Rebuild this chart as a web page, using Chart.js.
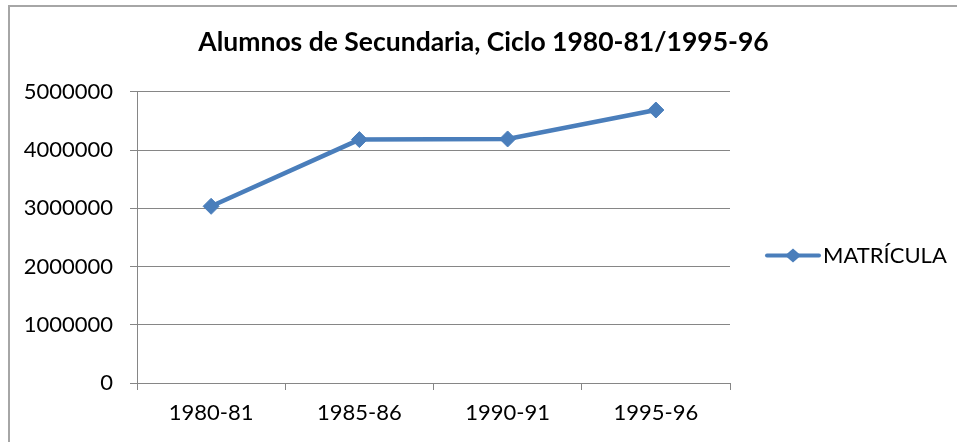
<!DOCTYPE html>
<html>
<head>
<meta charset="utf-8">
<script src="https://cdn.jsdelivr.net/npm/chart.js@4.4.1/dist/chart.umd.min.js"></script>
<style>
  html, body { margin: 0; padding: 0; background: #fff; }
  #wrap { position: relative; width: 957px; height: 442px; overflow: hidden; }
  #frame { position: absolute; left: 8px; top: 5px; width: 1000px; height: 500px;
           border: 2px solid #a6a6a6; pointer-events: none; }
</style>
</head>
<body>
<div id="wrap">
  <canvas id="chart" width="957" height="442"></canvas>
  <div id="frame"></div>
</div>
<script>
const ciclos = ['1980-81', '1985-86', '1990-91', '1995-96'];
const matricula = [3033856, 4179466, 4190190, 4687335];
const serieNombre = 'MATRÍCULA';
const titulo = 'Alumnos de Secundaria, Ciclo 1980-81/1995-96';

const azul = '#4a7ebb';
const gris = '#868686';
const fuente = 'Lato, "Open Sans", sans-serif';

// leyenda al estilo Excel: linea con rombo
const leyendaLinea = {
  id: 'leyendaLinea',
  afterDraw(chart) {
    const { ctx, chartArea } = chart;
    const ds = chart.data.datasets[0];
    const x0 = chartArea.right + 37;
    const y = (chartArea.top + chartArea.bottom) / 2 + 18;
    ctx.save();
    ctx.strokeStyle = ds.borderColor;
    ctx.lineWidth = 4;
    ctx.lineCap = 'round';
    ctx.beginPath();
    ctx.moveTo(x0, y);
    ctx.lineTo(x0 + 52, y);
    ctx.stroke();
    ctx.fillStyle = ds.borderColor;
    ctx.beginPath();
    ctx.moveTo(x0 + 26, y - 7);
    ctx.lineTo(x0 + 34, y);
    ctx.lineTo(x0 + 26, y + 7);
    ctx.lineTo(x0 + 18, y);
    ctx.closePath();
    ctx.fill();
    ctx.fillStyle = '#000';
    ctx.font = '22px ' + fuente;
    ctx.textBaseline = 'middle';
    ctx.fillText(ds.label, x0 + 56, y + 1);
    ctx.restore();
  }
};

new Chart(document.getElementById('chart'), {
  type: 'line',
  data: {
    labels: ciclos,
    datasets: [{
      label: serieNombre,
      data: matricula,
      borderColor: azul,
      backgroundColor: azul,
      borderWidth: 4.5,
      pointStyle: 'rectRot',
      pointRadius: 8,
      pointHoverRadius: 8,
      pointBackgroundColor: azul,
      pointBorderColor: azul,
      pointBorderWidth: 1,
      tension: 0
    }]
  },
  options: {
    responsive: false,
    animation: false,
    devicePixelRatio: 1,
    layout: { padding: { left: 10, right: 0, top: 0, bottom: 0 } },
    plugins: {
      legend: { display: false },
      tooltip: { enabled: false },
      title: {
        display: true,
        text: titulo,
        color: '#000',
        font: { family: fuente, size: 26.5, weight: 'bold' },
        padding: { top: 27, bottom: 33 }
      }
    },
    scales: {
      x: {
        offset: true,
        grid: { offset: true, drawOnChartArea: false, color: gris, tickLength: 7 },
        border: { color: gris, width: 1 },
        ticks: { color: '#000', font: { family: fuente, size: 22 }, padding: 10, maxRotation: 0 },
        afterFit(scale) { scale.height = 59; }
      },
      y: {
        min: 0,
        max: 5000000,
        grid: { color: gris, tickLength: 7 },
        border: { color: gris, width: 1 },
        ticks: {
          stepSize: 1000000,
          color: '#000',
          font: { family: fuente, size: 22 },
          padding: 17,
          callback: (v) => String(v)
        },
        afterFit(scale) { scale.width = 127; }
      },
      // espacio reservado para la leyenda a la derecha
      hueco: {
        type: 'linear',
        position: 'right',
        display: true,
        grid: { display: false, drawTicks: false },
        border: { display: false },
        ticks: { display: false },
        afterFit(scale) { scale.width = 227; }
      }
    }
  },
  plugins: [leyendaLinea]
});
</script>
</body>
</html>
